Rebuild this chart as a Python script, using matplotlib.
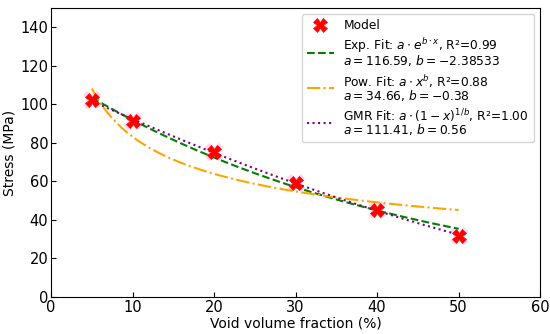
import matplotlib.pyplot as plt
import numpy as np

# measured points
void_pct = [5, 10, 20, 30, 40, 50]
stress = [102, 91.5, 75, 59, 45, 31.5]

# fit parameters (from legend)
exp_a, exp_b, exp_r2 = 116.59, -2.38533, 0.99
pow_a, pow_b, pow_r2 = 34.66, -0.38, 0.88
gmr_a, gmr_b, gmr_r2 = 111.41, 0.56, 1.00

x = np.linspace(0.05, 0.5, 200)
exp_fit = exp_a * np.exp(exp_b * x)
pow_fit = pow_a * x ** pow_b
gmr_fit = gmr_a * (1 - x) ** (1 / gmr_b)

fig = plt.figure(figsize=(5.5, 3.34), dpi=100)
ax = fig.add_axes([0.093, 0.111, 0.889, 0.865])

# faint pink halo behind markers
ax.plot(void_pct, stress, "X", color="#ffb0e0", alpha=0.5, markersize=13,
        markeredgewidth=0, linestyle="none", zorder=2)
ax.plot(void_pct, stress, "X", color="red", markersize=10,
        markeredgecolor="red", markeredgewidth=0.5, linestyle="none",
        label="Model", zorder=3)
ax.plot(x * 100, exp_fit, "--", color="green", lw=1.5,
        label=f"Exp. Fit: $a\\cdot e^{{b\\cdot x}}$, R²={exp_r2:.2f}\n$a={exp_a}$, $b={exp_b}$")
ax.plot(x * 100, pow_fit, "-.", color="orange", lw=1.5,
        label=f"Pow. Fit: $a\\cdot x^b$, R²={pow_r2:.2f}\n$a={pow_a}$, $b={pow_b}$")
ax.plot(x * 100, gmr_fit, ":", color="purple", lw=1.5,
        label=f"GMR Fit: $a\\cdot(1-x)^{{1/b}}$, R²={gmr_r2:.2f}\n$a={gmr_a}$, $b={gmr_b}$")

ax.set_xlim(0, 60)
ax.set_ylim(0, 150)
ax.set_xticks(range(0, 61, 10))
ax.set_yticks(range(0, 141, 20))
ax.tick_params(direction="in", labelsize=10.5, pad=2)
ax.set_xlabel("Void volume fraction (%)", fontsize=10, labelpad=1)
ax.set_ylabel("Stress (MPa)", fontsize=10, labelpad=3)
leg = ax.legend(loc="upper right", fontsize=8.8, handlelength=2.2,
                labelspacing=0.35, borderaxespad=0.5)
for t in leg.get_texts():
    t.set_linespacing(0.85)

fig.savefig("out.png", dpi=100)
